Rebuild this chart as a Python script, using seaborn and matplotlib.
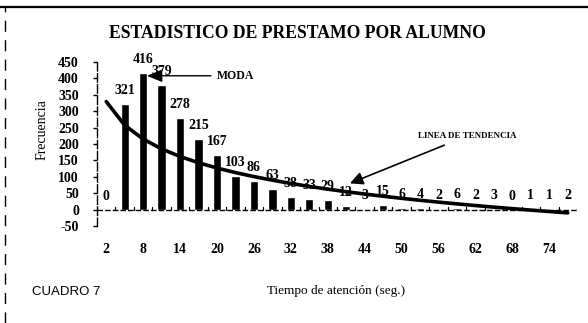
import numpy as np
import pandas as pd
import matplotlib
matplotlib.use("Agg")
import matplotlib.pyplot as plt
import seaborn as sns
from matplotlib.lines import Line2D

# Attention time (seconds) and number of loans observed for each time
tiempo = [2, 5, 8, 11, 14, 17, 20, 23, 26, 29, 32, 35, 38,
          41, 44, 47, 50, 53, 56, 59, 62, 65, 68, 71, 74, 77]
frecuencia = [0, 321, 416, 379, 278, 215, 167, 103, 86, 63, 38, 33, 29,
              12, 3, 15, 6, 4, 2, 6, 2, 3, 0, 1, 1, 2]
y_ticks = [-50, 0, 50, 100, 150, 200, 250, 300, 350, 400, 450]

titulo = "ESTADISTICO DE PRESTAMO POR ALUMNO"
eje_x = "Tiempo de atención (seg.)"
eje_y = "Frecuencia"
nota = "CUADRO 7"

df = pd.DataFrame({"tiempo": [str(t) for t in tiempo], "frecuencia": frecuencia})

sns.set_theme(style="white")
plt.rcParams["font.family"] = ["Liberation Serif", "DejaVu Serif"]
plt.rcParams.update({"text.color": "black", "axes.labelcolor": "black",
                     "xtick.color": "black", "ytick.color": "black"})

W, H = 588, 323
fig = plt.figure(figsize=(W / 100, H / 100), dpi=100)
ax = fig.add_axes([97 / W, 1 - 226 / H, (577 - 97) / W, (226 - 62) / H])

sns.barplot(data=df, x="tiempo", y="frecuencia", color="black",
            width=0.45, saturation=1, ax=ax, order=df["tiempo"])

# value labels above each bar
ax.bar_label(ax.containers[0], labels=[str(v) for v in frecuencia],
             padding=5, fontsize=10, fontweight="bold", color="black")

# logarithmic trend line (least squares on ln x)
xs = np.arange(1, len(frecuencia) + 1)
b, a = np.polyfit(np.log(xs), np.array(frecuencia, float), 1)
ax.plot(xs - 1, a + b * np.log(xs), color="black", lw=2.6, solid_capstyle="round")

ax.set_xlim(-0.5, len(tiempo) - 0.5)
ax.set_ylim(-50, 450)
ax.set_yticks(y_ticks)
ax.set_yticklabels([str(v) for v in y_ticks], fontsize=10, fontweight="bold")
ax.set_xticks(range(len(tiempo)))
ax.set_xticklabels([str(t) if i % 2 == 0 else "" for i, t in enumerate(tiempo)],
                   fontsize=10, fontweight="bold")
ax.tick_params(axis="x", length=0, pad=12)
ax.tick_params(axis="y", length=3, width=1, direction="out", left=True, pad=10)
ax.set_xlabel("")
ax.set_ylabel("")

for s in ["top", "right", "bottom"]:
    ax.spines[s].set_visible(False)
ax.spines["left"].set_color("black")
ax.spines["left"].set_linewidth(1)
ax.spines["left"].set_linestyle((0, (6, 2)))

# category axis drawn at zero, with small marks between categories
ax.axhline(0, color="black", lw=1, linestyle=(0, (4, 1.5)))
for i in range(len(tiempo) + 1):
    ax.plot([i - 0.5, i - 0.5], [0, 7], color="black", lw=0.9)

# annotations
imax = int(np.argmax(frecuencia))
ax.annotate("MODA", xy=(imax + 0.2, 408), xytext=(imax + 4.0, 408),
            fontsize=8.5, fontweight="bold", va="center", ha="left",
            arrowprops=dict(arrowstyle="-|>,head_length=1.1,head_width=0.45",
                            color="black", lw=1, shrinkB=0, shrinkA=2))
ax.annotate("LINEA DE TENDENCIA", xy=(13.2, 80), xytext=(16.9, 225),
            fontsize=6.5, fontweight="bold", va="center", ha="left",
            arrowprops=dict(arrowstyle="-|>,head_length=1.2,head_width=0.6",
                            color="black", lw=1.2, shrinkB=0, shrinkA=4))

fig.text(0.506, 1 - 33 / H, titulo, ha="center", va="center",
         fontsize=12.7, fontweight="bold")
fig.text(42 / W, 1 - 130 / H, eje_y, rotation=90, ha="center", va="center",
         fontsize=10)
fig.text(336 / W, 1 - 291 / H, eje_x, ha="center", va="center", fontsize=9.5)
fig.text(32 / W, 1 - 292 / H, nota, ha="left", va="center", fontsize=9.5,
         family=["Liberation Sans", "DejaVu Sans"])

# frame around the sheet
fig.add_artist(Line2D([0, 1], [1 - 7 / H, 1 - 7 / H], color="black", lw=1.6,
                      transform=fig.transFigure))
fig.add_artist(Line2D([5 / W, 5 / W], [0, 1 - 7 / H], color="black", lw=1,
                      linestyle=(0, (8, 6)), transform=fig.transFigure))

fig.savefig("out.png", dpi=100, facecolor="white")
